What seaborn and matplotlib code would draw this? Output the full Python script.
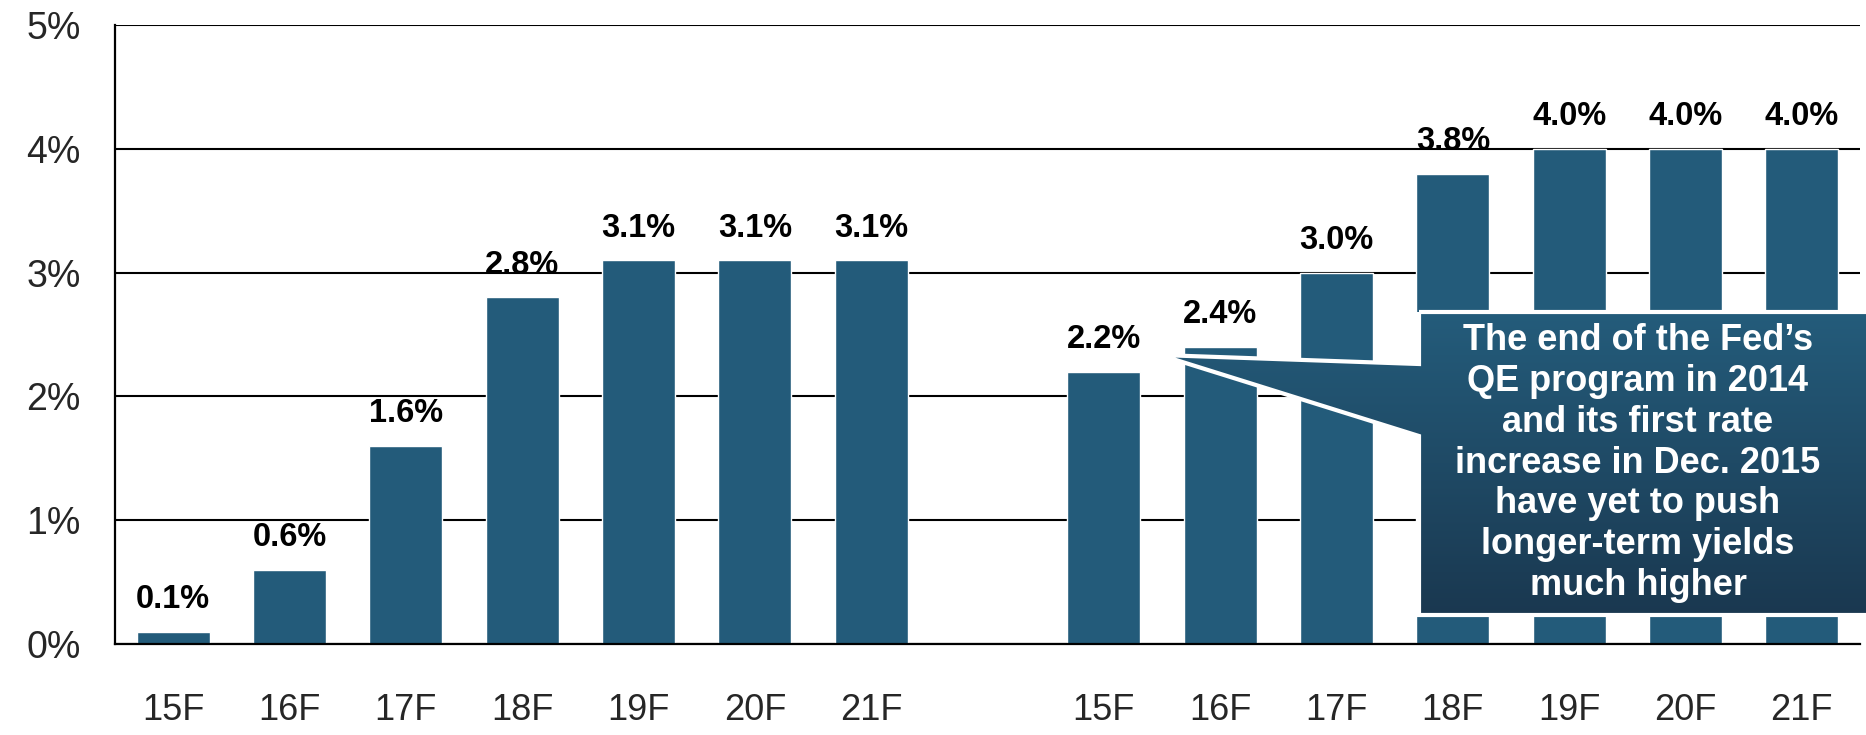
import numpy as np
import pandas as pd
import matplotlib
matplotlib.use('Agg')
import matplotlib.pyplot as plt
from matplotlib.patches import Polygon
import seaborn as sns

sns.set_style('white')
plt.rcParams['font.family'] = ['Liberation Sans', 'DejaVu Sans']

# data
years = ['15F', '16F', '17F', '18F', '19F', '20F', '21F']
left_vals = [0.1, 0.6, 1.6, 2.8, 3.1, 3.1, 3.1]
right_vals = [2.2, 2.4, 3.0, 3.8, 4.0, 4.0, 4.0]
note = ("The end of the Fed\u2019s\nQE program in 2014\nand its first rate\n"
        "increase in Dec. 2015\nhave yet to push\nlonger-term yields\nmuch higher")

bar_color = '#235b7a'
W, H = 1866, 735

left_keys = ['a' + y for y in years]
right_keys = ['b' + y for y in years]
order = left_keys + ['gap'] + right_keys
df = pd.DataFrame({'key': left_keys + right_keys, 'value': left_vals + right_vals})

fig = plt.figure(figsize=(W / 100, H / 100), dpi=100)
ax = fig.add_axes([115 / W, 91 / H, 1745 / W, 619 / H])

sns.barplot(data=df, x='key', y='value', order=order, color=bar_color,
            saturation=1, width=0.63, ax=ax, zorder=2)

# value labels
for p in ax.patches:
    h = p.get_height()
    if np.isnan(h):
        continue
    ax.annotate(f'{h:.1f}%', (p.get_x() + p.get_width() / 2, h),
                xytext=(0, 17), textcoords='offset points', ha='center',
                va='baseline', fontsize=23.5, fontweight='bold', color='black',
                zorder=3)

ax.set_ylim(0, 5)
ax.set_xlim(-0.5, len(order) - 0.5)
ax.set_yticks(range(6))
ax.set_yticklabels([f'{v}%' for v in range(6)], fontsize=27)
ax.set_xticks(range(len(order)))
ax.set_xticklabels(years + [''] + years, fontsize=26)
ax.set_xticks(np.arange(-0.5, len(order), 1), minor=True)
ax.tick_params(axis='x', which='major', length=0, pad=35)
ax.tick_params(axis='x', which='minor', length=7, width=1.5, color='black', direction='out')
ax.tick_params(axis='y', length=9.5, width=1.5, color='black', direction='out', pad=15)
ax.set_xlabel('')
ax.set_ylabel('')

ax.set_axisbelow(True)
ax.yaxis.grid(True, color='black', lw=1.5)
sns.despine(ax=ax, top=True, right=True)
for s in ['left', 'bottom']:
    ax.spines[s].set_color('black')
    ax.spines[s].set_linewidth(1.6)
ax.spines['bottom'].set_zorder(4)

# callout box with pointer, drawn in pixel coordinates on an overlay
ov = fig.add_axes([0, 0, 1, 1], zorder=5)
ov.set_xlim(0, W)
ov.set_ylim(H, 0)
ov.axis('off')
ov.patch.set_alpha(0)

bl, bt, br, bb = 1419, 312, 1868, 615
shape = [(bl, bt), (br, bt), (br, bb), (bl, bb), (bl, 436), (1160, 355), (bl, 364)]
poly = Polygon(shape, closed=True, facecolor='none', edgecolor='none')
ov.add_patch(poly)

top_c = np.array(matplotlib.colors.to_rgb('#245c7b'))
bot_c = np.array(matplotlib.colors.to_rgb('#1a3850'))
t = np.linspace(0, 1, 256)[:, None]
grad = (top_c * (1 - t) + bot_c * t)[:, None, :]
img = ov.imshow(grad, extent=(1150, br, bb, bt), aspect='auto', zorder=1)
img.set_clip_path(poly)
ov.add_patch(Polygon(shape, closed=True, facecolor='none', edgecolor='white',
                     lw=3, zorder=2))
ov.set_xlim(0, W)
ov.set_ylim(H, 0)

ov.text(1638, 463, note, ha='center', va='center', color='white',
        fontsize=26, fontweight='bold', linespacing=1.22, zorder=3)

fig.savefig('out.png', dpi=100)
